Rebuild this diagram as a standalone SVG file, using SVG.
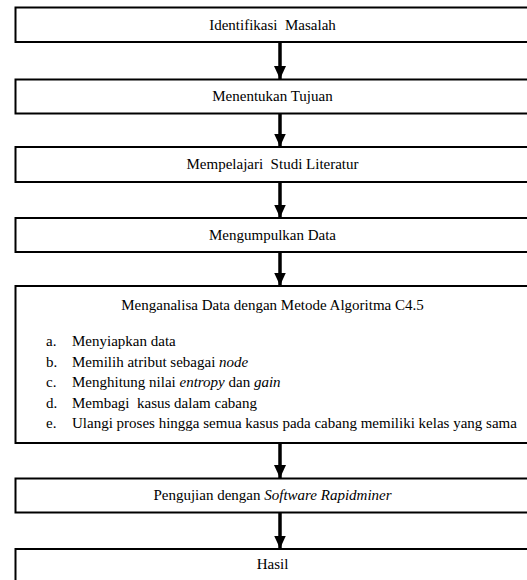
<svg xmlns="http://www.w3.org/2000/svg" width="527" height="580" viewBox="0 0 527 580">
<defs>
<style>
.box{fill:#fff;stroke:#000;stroke-width:2}
.t{font-family:'Liberation Serif',Tinos,'Times New Roman','Nimbus Roman','DejaVu Serif',serif;font-size:15px;fill:#000}
.c{text-anchor:middle}
.i{font-style:italic}
.conn{stroke:#000;stroke-width:3.5;fill:none}
</style>
<marker id="ah" markerUnits="userSpaceOnUse" markerWidth="13" markerHeight="12" refX="13" refY="6" orient="auto" viewBox="0 0 13 12">
<path d="M0,0 L13,6 L0,12 Z" fill="#000"/>
</marker>
</defs>
<rect width="527" height="580" fill="#fff"/>
<g id="connectors">
<line class="conn" x1="280" y1="42" x2="280" y2="79" marker-end="url(#ah)"/>
<line class="conn" x1="280" y1="113" x2="280" y2="146.5" marker-end="url(#ah)"/>
<line class="conn" x1="280" y1="182" x2="280" y2="217.5" marker-end="url(#ah)"/>
<line class="conn" x1="280" y1="252" x2="280" y2="285.5" marker-end="url(#ah)"/>
<line class="conn" x1="280" y1="443" x2="280" y2="478" marker-end="url(#ah)"/>
<line class="conn" x1="280" y1="512" x2="280" y2="548.5" marker-end="url(#ah)"/>
</g>
<g id="n1">
<rect class="box" x="15.5" y="7.5" width="520" height="34.5"/>
<text class="t c" font-family="Liberation Serif, serif" x="272.5" y="29.5" xml:space="preserve">Identifikasi  Masalah</text>
</g>
<g id="n2">
<rect class="box" x="15.5" y="79.5" width="520" height="34"/>
<text class="t c" x="272.5" y="101">Menentukan Tujuan</text>
</g>
<g id="n3">
<rect class="box" x="15.5" y="147" width="520" height="35"/>
<text class="t c" x="272.5" y="168.5" xml:space="preserve">Mempelajari  Studi Literatur</text>
</g>
<g id="n4">
<rect class="box" x="15.5" y="218" width="520" height="34"/>
<text class="t c" x="272.5" y="239.5">Mengumpulkan Data</text>
</g>
<g id="n5">
<rect class="box" x="15.5" y="286" width="520" height="157"/>
<text class="t c" x="272.5" y="310">Menganalisa Data dengan Metode Algoritma C4.5</text>
<text class="t" x="46" y="346">a.</text>
<text class="t" x="72" y="346">Menyiapkan data</text>
<text class="t" x="46" y="366.5">b.</text>
<text class="t" x="72" y="366.5">Memilih atribut sebagai <tspan class="i">node</tspan></text>
<text class="t" x="46" y="387">c.</text>
<text class="t" x="72" y="387">Menghitung nilai <tspan class="i">entropy</tspan> dan <tspan class="i">gain</tspan></text>
<text class="t" x="46" y="407.5">d.</text>
<text class="t" x="72" y="407.5" xml:space="preserve">Membagi  kasus dalam cabang</text>
<text class="t" x="46" y="428">e.</text>
<text class="t" x="72" y="428">Ulangi proses hingga semua kasus pada cabang memiliki kelas yang sama</text>
</g>
<g id="n6">
<rect class="box" x="15.5" y="478.5" width="520" height="34"/>
<text class="t c" x="272.5" y="500">Pengujian dengan <tspan class="i">Software Rapidminer</tspan></text>
</g>
<g id="n7">
<rect class="box" x="15.5" y="549" width="520" height="40"/>
<text class="t c" x="272.5" y="569">Hasil</text>
</g>
</svg>
